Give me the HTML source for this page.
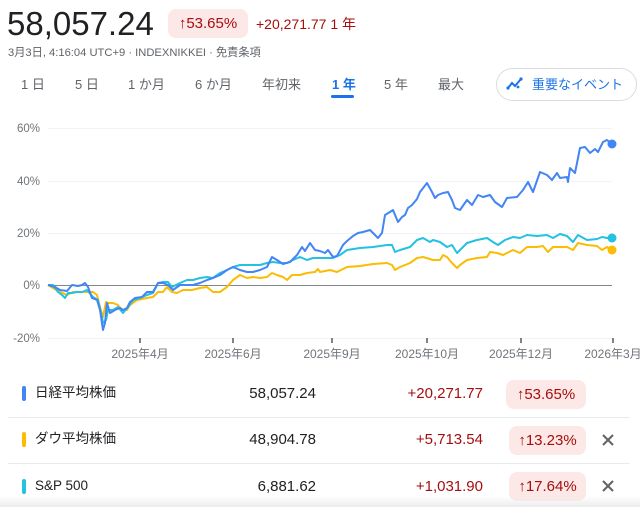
<!DOCTYPE html>
<html><head><meta charset="utf-8">
<style>
html,body{margin:0;padding:0;background:#fff;}
body{width:640px;height:507px;position:relative;overflow:hidden;font-family:"Liberation Sans","Noto Sans CJK JP",sans-serif;color:#202124;}
.a{position:absolute;white-space:nowrap;line-height:1;}
.tab{position:absolute;top:78px;font-size:13px;color:#5f6368;line-height:14px;white-space:nowrap;}
.badge{position:absolute;background:#fce8e6;border-radius:8px;color:#a50e0e;font-size:15px;display:flex;align-items:center;justify-content:center;}
.red{color:#a50e0e;}
.bar{position:absolute;left:22px;width:4px;height:15px;border-radius:2px;}
.name{position:absolute;left:35px;font-size:13.5px;line-height:16px;color:#202124;white-space:nowrap;}
.val{position:absolute;right:324px;font-size:15px;line-height:16px;color:#202124;white-space:nowrap;}
.chg{position:absolute;right:157px;font-size:15px;line-height:16px;color:#a50e0e;white-space:nowrap;}
.div{position:absolute;left:8px;width:622px;height:1px;background:#e8eaed;}
</style></head><body>

<div class="a" style="left:7px;top:7px;font-size:33px;line-height:33px;color:#202124;">58,057.24</div>
<div class="badge" style="left:168px;top:9px;width:80px;height:29px;">↑53.65%</div>
<div class="a red" style="left:256px;top:16px;font-size:14px;line-height:16px;">+20,271.77 1 年</div>
<div class="a" style="left:8px;top:46px;font-size:11.2px;line-height:14px;color:#5f6368;">3月3日, 4:16:04 UTC+9 · INDEXNIKKEI · 免責条項</div>

<div class="tab" style="left:21px;">1 日</div>
<div class="tab" style="left:75px;">5 日</div>
<div class="tab" style="left:128px;">1 か月</div>
<div class="tab" style="left:195px;">6 か月</div>
<div class="tab" style="left:262px;">年初来</div>
<div class="tab" style="left:332px;color:#1a73e8;font-weight:bold;">1 年</div>
<div class="tab" style="left:384px;">5 年</div>
<div class="tab" style="left:438px;">最大</div>
<div style="position:absolute;left:331px;top:95px;width:23px;height:3px;background:#1a73e8;border-radius:2px;"></div>

<div style="position:absolute;left:496px;top:68px;width:139px;height:31px;border:1px solid #dadce0;border-radius:17px;"></div>
<svg style="position:absolute;left:506px;top:76px;" width="18" height="16" viewBox="0 0 18 16">
<polyline points="2,12 6,7 9,10 15,3" fill="none" stroke="#1a73e8" stroke-width="2"/>
<circle cx="2" cy="12" r="1.6" fill="#1a73e8"/><circle cx="15" cy="3" r="1.6" fill="#1a73e8"/><circle cx="12" cy="11" r="1.4" fill="#1a73e8"/>
</svg>
<div class="a" style="left:532px;top:77px;font-size:13px;line-height:15px;color:#1a73e8;">重要なイベント</div>

<svg style="position:absolute;left:0;top:0;" width="640" height="370">
<g stroke="#f1f3f4" stroke-width="1">
<line x1="48" y1="128.5" x2="612" y2="128.5"/>
<line x1="48" y1="181.5" x2="612" y2="181.5"/>
<line x1="48" y1="233.5" x2="612" y2="233.5"/>
<line x1="48" y1="338.5" x2="612" y2="338.5"/>
</g>
<line x1="48" y1="285.5" x2="612" y2="285.5" stroke="#80868b" stroke-width="1"/>
<g stroke="#5f6368" stroke-width="1.6">
<line x1="140" y1="338" x2="140" y2="343"/>
<line x1="233" y1="338" x2="233" y2="343"/>
<line x1="332" y1="338" x2="332" y2="343"/>
<line x1="427" y1="338" x2="427" y2="343"/>
<line x1="521" y1="338" x2="521" y2="343"/>
<line x1="613" y1="338" x2="613" y2="343"/>
</g>
<g font-family="Liberation Sans, Noto Sans CJK JP, sans-serif" font-size="11.5" fill="#70757a" text-anchor="end">
<text x="40" y="132">60%</text>
<text x="40" y="185">40%</text>
<text x="40" y="237">20%</text>
<text x="40" y="289">0%</text>
<text x="40" y="342">-20%</text>
</g>
<g font-family="Liberation Sans, Noto Sans CJK JP, sans-serif" font-size="12" fill="#70757a" text-anchor="middle">
<text x="140" y="358">2025年4月</text>
<text x="233" y="358">2025年6月</text>
<text x="332" y="358">2025年9月</text>
<text x="427" y="358">2025年10月</text>
<text x="521" y="358">2025年12月</text>
<text x="613" y="358">2026年3月</text>
</g>
<g fill="none" stroke-width="2" stroke-linejoin="round">
<polyline stroke="#fbbc04" points="48,285 53,288 60,292 67,295 73,292 80,292 87,292 93,292 97,295 100,307 103,317 106,302 108,303 113,303 118,305 122,310 127,310 130,305 137,300 147,298 153,297 158,292 163,292 167,287 172,292 177,293 183,290 192,290 200,288 207,287 213,292 220,292 227,287 233,280 240,275 247,278 253,277 260,278 267,277 272,273 277,275 283,277 287,280 292,275 300,275 307,273 315,272 318,269 320,272 330,270 337,272 347,267 360,266 373,264 387,263 392,265 395,270 400,267 410,263 417,258 423,257 433,260 440,260 443,255 447,257 452,263 457,268 460,265 467,260 477,258 487,257 490,252 497,253 503,255 513,250 520,253 527,247 537,247 543,246 548,252 553,247 567,247 573,250 578,243 587,245 597,246 602,250 607,247 612,250"/>
<polyline stroke="#24c1e0" points="48,285 53,285 58,292 62,295 65,298 68,293 72,293 77,292 82,292 87,290 93,297 98,300 102,317 103,323 106,320 108,310 113,310 118,307 123,313 128,307 133,300 140,298 147,295 153,293 158,283 163,282 168,282 172,287 180,283 187,280 193,280 200,278 207,277 213,278 220,273 227,270 233,267 240,265 253,265 260,265 267,263 273,262 280,263 287,263 293,260 300,257 307,260 313,258 320,258 333,258 340,255 347,250 360,248 373,247 387,245 392,245 395,252 400,250 410,247 417,240 423,238 430,242 433,240 440,242 447,247 452,245 457,253 460,250 467,243 477,240 487,238 493,242 498,245 505,240 513,237 520,238 527,235 537,236 547,235 553,238 560,234 567,236 573,242 578,235 587,240 597,239 602,237 607,238 612,238"/>
<polyline stroke="#4285f4" points="48,285 55,287 60,290 67,291 72,285 78,286 82,285 85,283 88,287 92,298 97,300 100,310 103,330 105,323 107,303 110,313 115,310 120,308 123,310 127,308 130,302 135,298 142,297 147,292 153,292 158,283 163,283 168,285 173,290 180,285 187,285 193,285 200,283 207,280 213,278 220,275 227,270 233,267 240,270 247,272 253,272 260,270 267,267 272,257 277,260 283,264 290,262 297,255 302,247 305,251 310,243 315,250 320,251 325,253 328,250 333,257 337,256 343,245 347,241 353,236 358,233 363,232 370,230 374,234 378,238 382,233 385,215 390,212 393,210 398,222 402,217 405,215 408,208 412,205 417,199 420,192 427,183 432,192 435,198 438,195 443,193 448,192 452,200 455,208 460,210 467,200 472,205 478,195 483,197 490,195 495,202 502,207 507,198 517,197 523,190 528,182 533,192 540,172 547,175 552,180 557,173 560,178 567,177 568,182 570,168 575,173 580,148 585,147 590,153 595,149 598,152 603,142 607,140 612,144"/>
</g>
<circle cx="612" cy="250" r="4.5" fill="#fbbc04"/>
<circle cx="612" cy="238" r="4.5" fill="#24c1e0"/>
<circle cx="612" cy="144" r="4.5" fill="#4285f4"/>
</svg>

<!-- table -->
<div class="bar" style="top:386px;background:#4285f4;"></div>
<div class="name" style="top:385px;">日経平均株価</div>
<div class="val" style="top:386px;">58,057.24</div>
<div class="chg" style="top:386px;">+20,271.77</div>
<div class="badge" style="left:506px;top:380px;width:80px;height:29px;">↑53.65%</div>
<div class="div" style="top:417px;"></div>

<div class="bar" style="top:432px;background:#fbbc04;"></div>
<div class="name" style="top:431px;">ダウ平均株価</div>
<div class="val" style="top:432px;">48,904.78</div>
<div class="chg" style="top:432px;">+5,713.54</div>
<div class="badge" style="left:509px;top:426px;width:77px;height:29px;">↑13.23%</div>
<svg style="position:absolute;left:601px;top:433px;" width="14" height="14"><path d="M2 2L12 12M12 2L2 12" stroke="#5f6368" stroke-width="2"/></svg>
<div class="div" style="top:463px;"></div>

<div class="bar" style="top:479px;background:#24c1e0;"></div>
<div class="name" style="top:478px;">S&amp;P 500</div>
<div class="val" style="top:479px;">6,881.62</div>
<div class="chg" style="top:479px;">+1,031.90</div>
<div class="badge" style="left:509px;top:472px;width:77px;height:29px;">↑17.64%</div>
<svg style="position:absolute;left:601px;top:479px;" width="14" height="14"><path d="M2 2L12 12M12 2L2 12" stroke="#5f6368" stroke-width="2"/></svg>

<div style="position:absolute;left:0;top:496px;width:640px;height:11px;background:linear-gradient(to bottom,rgba(240,240,240,0),#ececec);"></div>
</body></html>
